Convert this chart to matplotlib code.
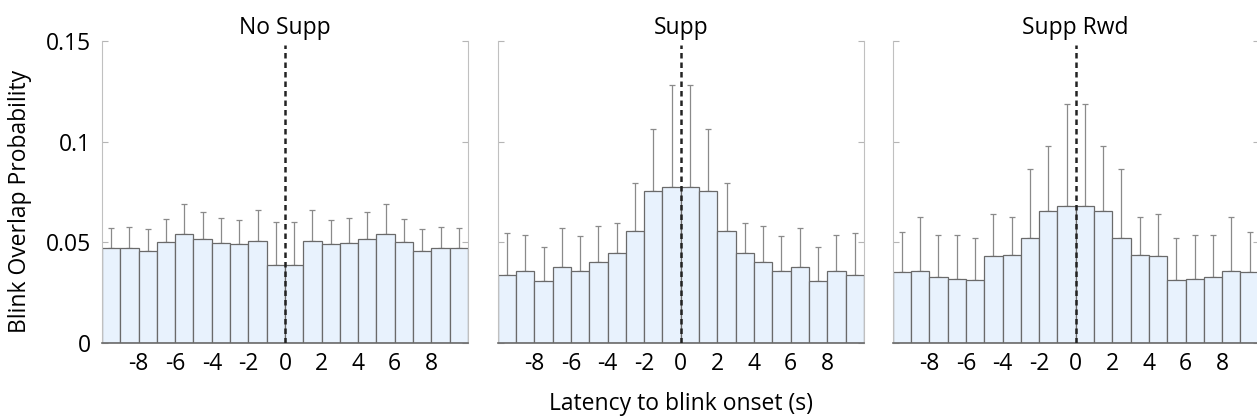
import matplotlib
matplotlib.use("Agg")
import matplotlib.pyplot as plt
import numpy as np

plt.rcParams['font.family'] = ['Open Sans', 'DejaVu Sans']
plt.rcParams['axes.unicode_minus'] = False

# 1 s bins from -10 to 10 s, centred on the half-seconds
bin_edges = np.arange(-10, 11, 1)
bin_centres = bin_edges[:-1] + 0.5

titles = ['No Supp', 'Supp', 'Supp Rwd']

# mean overlap probability, left half of each condition (mirrored on the right)
no_supp_half = [0.0474, 0.0474, 0.0458, 0.0502, 0.0544, 0.0517, 0.0497, 0.0492, 0.0509, 0.0387]
supp_half = [0.0339, 0.0359, 0.0307, 0.0377, 0.0357, 0.0405, 0.0446, 0.0555, 0.0755, 0.0773]
supp_rwd_half = [0.0352, 0.0359, 0.0327, 0.0321, 0.0312, 0.0433, 0.0440, 0.0521, 0.0654, 0.0681]

# top of the upper error bar
no_supp_err_top = [0.0573, 0.0578, 0.0567, 0.0618, 0.0692, 0.0651, 0.0620, 0.0611, 0.0659, 0.0603]
supp_err_top = [0.0547, 0.0539, 0.0476, 0.0573, 0.0534, 0.0582, 0.0598, 0.0795, 0.1064, 0.1279]
supp_rwd_err_top = [0.0550, 0.0625, 0.0539, 0.0539, 0.0521, 0.0643, 0.0625, 0.0864, 0.0978, 0.1185]

means = [no_supp_half, supp_half, supp_rwd_half]
err_tops = [no_supp_err_top, supp_err_top, supp_rwd_err_top]

fig = plt.figure(figsize=(12.57, 4.19), dpi=100)
lefts = [0.0811, 0.396, 0.7102]
width = 0.2912
fs = 16.5

for i in range(3):
    ax = fig.add_axes([lefts[i], 0.1807, width, 0.7222])
    m = np.array(means[i] + means[i][::-1])
    top = np.array(err_tops[i] + err_tops[i][::-1])

    # error bars first so the bars hide the lower half
    ax.errorbar(bin_centres, m, yerr=[np.zeros_like(m), top - m], fmt='none',
                ecolor='#8a8a8a', elinewidth=0.9, capsize=2, capthick=0.9, zorder=1)
    ax.bar(bin_centres, m, width=1.0, color='#e8f2fd', edgecolor='#6a6a6a',
           linewidth=0.9, zorder=2)
    ax.axvline(0, ymin=0, ymax=0.985, color='#222222', linestyle=(0, (2.2, 1.6)),
               linewidth=1.8, zorder=3)

    ax.set_xlim(-10, 10)
    ax.set_ylim(0, 0.15)
    ax.set_xticks([-8, -6, -4, -2, 0, 2, 4, 6, 8])
    ax.set_yticks([0, 0.05, 0.1, 0.15])
    ax.set_yticklabels(['0', '0.05', '0.1', '0.15'] if i == 0 else [])
    ax.tick_params(axis='x', length=0, pad=6, labelsize=fs)
    ax.tick_params(axis='y', direction='in', length=4, color='#b5b5b5',
                   right=True, labelsize=fs, pad=8)

    ax.spines['top'].set_visible(False)
    ax.spines['left'].set_color('#c0c0c0')
    ax.spines['right'].set_color('#c0c0c0')
    ax.spines['bottom'].set_color('#6a6a6a')
    ax.spines['bottom'].set_linewidth(1.2)
    ax.set_title(titles[i], fontsize=fs, pad=5)

    if i == 0:
        ax.set_ylabel('Blink Overlap Probability', fontsize=fs)
        ax.yaxis.set_label_coords(-0.19, 0.47)
    if i == 1:
        ax.set_xlabel('Latency to blink onset (s)', fontsize=fs, labelpad=12)

plt.savefig('out.png', dpi=100)
